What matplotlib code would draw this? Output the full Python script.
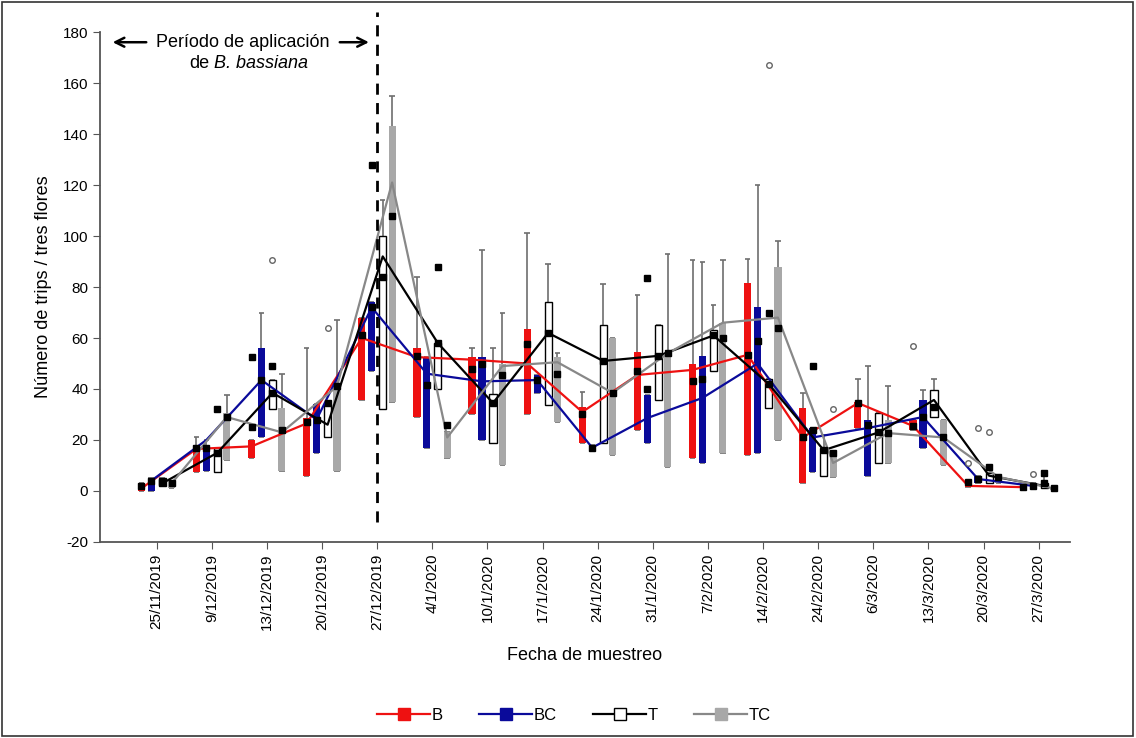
import matplotlib.pyplot as plt
import numpy as np
from matplotlib.patches import Rectangle

plt.rcParams['font.family'] = ['Liberation Sans', 'DejaVu Sans']
plt.rcParams['axes.unicode_minus'] = False

fechas = ['25/11/2019', '9/12/2019', '13/12/2019', '20/12/2019', '27/12/2019',
          '4/1/2020', '10/1/2020', '17/1/2020', '24/1/2020', '31/1/2020',
          '7/2/2020', '14/2/2020', '24/2/2020', '6/3/2020', '13/3/2020',
          '20/3/2020', '27/3/2020']

# B (rojo)
b_med = [1, 16.5, 17.5, 26.5, 60, 52.5, 51.5, 50, 31, 45.5, 47.5, 53.4, 21, 34.5, 25.5, 2, 1.5]
b_q1 = [0, 7.5, 13, 6, 35.5, 29, 30, 30, 19, 24, 13, 14, 3, 24.7, 24, 1.5, 1]
b_q3 = [3, 18, 20, 28.5, 68, 56, 52.5, 63.5, 33, 54.5, 50, 81.5, 32.5, 35, 28, 3.5, 2]
b_hi = [3, 21, 20, 56, 68, 84, 56, 101, 39, 77, 90.6, 91, 38.5, 44, 28, 3.5, 2]
b_mean = [2, 17, 25, 27, 61, 53, 48, 57.6, 30, 47, 43, 53.4, 21, 34.5, 25.5, 3.5, 1.5]

# BC (azul)
bc_med = [4, 20, 43.5, 28, 72, 46, 43, 43.5, 17, 28.6, 36.5, 50, 21, 24.7, 29, 4.7, 2]
bc_q1 = [0, 8, 21, 15, 47, 17, 20, 38.5, 16, 19, 11, 15, 7.5, 6, 17, 3, 1]
bc_q3 = [5, 17, 56, 34, 74, 52.5, 52.5, 45.5, 18, 37.6, 53, 72, 24.7, 28, 35.7, 6, 3]
bc_hi = [5, 20, 70, 34, 74, 52.5, 94.5, 45.5, 18, 37.6, 90, 120, 24.7, 49, 39.6, 6, 3]
bc_mean = [4, 17, 43.5, 28, 72, 41.6, 50, 43.5, 17, 40, 44, 59, 24, 26, 29, 4.7, 2]

# T (blanco)
t_med = [3, 15, 38.5, 26, 92, 58, 34.5, 62, 51, 53, 61, 42, 16, 23, 35.7, 6, 2]
t_q1 = [2, 7.5, 32, 21, 32, 40, 19, 33.7, 19, 35.7, 47, 32.5, 6, 11, 29, 3, 1]
t_q3 = [5, 17, 43.5, 34, 100, 58, 38, 74, 65, 65, 63, 44, 17, 30.5, 39.6, 7, 3]
t_hi = [5, 17, 43.5, 34, 114, 58, 56, 89, 81, 65, 73, 44, 22, 30.5, 44, 7, 6]
t_mean = [3.5, 15, 38.5, 34.5, 84, 58, 34.5, 62, 51, 53, 61, 42, 16, 23, 33, 9.4, 3]

# TC (gris)
tc_med = [3, 29, 23, 41, 121, 21, 49, 50.5, 38.5, 54, 66, 68, 11, 22.7, 21, 5.5, 1]
tc_q1 = [1, 12, 8, 8, 35, 13, 10, 27, 14, 9.4, 15, 20, 5.5, 11, 10, 3, 0.5]
tc_q3 = [4, 30.5, 32.5, 41, 143, 23, 50, 52.5, 60, 54.5, 66, 88, 15, 28, 28, 6, 1.5]
tc_hi = [4, 37.6, 46, 67, 155, 23, 70, 54, 60, 93, 90.6, 98, 15, 41, 28, 6, 1.5]
tc_mean = [3, 29, 24, 41, 108, 26, 45.5, 46, 38.5, 54, 60, 64, 15, 22.7, 21, 5.5, 1]

# valores extremos: (fecha, serie, valor)
ext_cuad = [(1, 2, 32), (2, 0, 52.5), (2, 2, 49), (4, 1, 128), (5, 2, 88),
            (9, 1, 83.5), (11, 2, 70), (12, 1, 49), (16, 2, 7)]
ext_circ = [(2, 2, 90.6), (3, 2, 64), (11, 2, 167), (12, 3, 32), (14, 0, 57),
            (15, 0, 11), (15, 1, 24.7), (15, 2, 23), (16, 1, 6.5)]

series = [
    ('B', b_med, b_q1, b_q3, b_hi, b_mean, '#ee1111', '#ee1111', '#ee1111'),
    ('BC', bc_med, bc_q1, bc_q3, bc_hi, bc_mean, '#0a0a9a', '#0a0a9a', '#0a0a9a'),
    ('T', t_med, t_q1, t_q3, t_hi, t_mean, 'white', 'black', 'black'),
    ('TC', tc_med, tc_q1, tc_q3, tc_hi, tc_mean, '#a8a8a8', '#a8a8a8', '#888888'),
]
offsets = [-0.28, -0.1, 0.1, 0.27]
ancho = 0.13

fig = plt.figure(figsize=(11.36, 7.38), dpi=100)
ax = fig.add_axes([0.088, 0.2656, 0.854, 0.691])

x = np.arange(len(fechas))
for k, (nombre, med, q1, q3, hi, media, fc, ec, lc) in enumerate(series):
    xs = x + offsets[k]
    q1 = np.array(q1); q3 = np.array(q3); hi = np.array(hi)
    ax.vlines(xs, q1, hi, color='#6e6e6e', lw=1.2, zorder=2)
    ax.hlines(hi, xs - 0.05, xs + 0.05, color='#6e6e6e', lw=1.2, zorder=2)
    ax.hlines(q1, xs - 0.05, xs + 0.05, color='#6e6e6e', lw=1.2, zorder=2)
    ax.bar(xs, q3 - q1, bottom=q1, width=ancho, color=fc,
           edgecolor=ec if nombre == 'T' else 'none', lw=1, zorder=3)
    ax.plot(xs, med, color=lc, lw=1.6, zorder=4)
    ax.plot(xs, media, ls='none', marker='s', ms=5, color='black', zorder=5)

for i, s, v in ext_cuad:
    ax.plot(i + offsets[s], v, ls='none', marker='s', ms=5, color='black', zorder=5)
for i, s, v in ext_circ:
    ax.plot(i + offsets[s], v, ls='none', marker='o', ms=4, mfc='white',
            mec='#666666', mew=1, zorder=5)

# línea de fin de aplicación
ax.vlines(4, -12, 188, colors='black', linestyles=(0, (4, 3)), lw=2, clip_on=False, zorder=6)

ax.text(1.56, 176, 'Período de aplicación', ha='center', va='center', fontsize=13)
ax.text(0.95, 167.5, 'de', ha='right', va='center', fontsize=13)
ax.text(1.03, 167.5, 'B. bassiana', ha='left', va='center', fontsize=13, style='italic')
ax.annotate('', xy=(-0.85, 176), xytext=(-0.14, 176),
            arrowprops=dict(arrowstyle='->', lw=1.8, mutation_scale=16, color='black'))
ax.annotate('', xy=(3.9, 176), xytext=(3.27, 176),
            arrowprops=dict(arrowstyle='->', lw=1.8, mutation_scale=16, color='black'))

ax.set_xlim(-1.03, 16.57)
ax.set_ylim(-20, 180)
ax.set_yticks(np.arange(-20, 181, 20))
ax.set_xticks(x)
ax.set_xticklabels(fechas, rotation=90, fontsize=11)
ax.tick_params(axis='y', labelsize=11, length=5, color='#555555')
ax.tick_params(axis='x', length=5, color='#555555')
for lado in ['top', 'right']:
    ax.spines[lado].set_visible(False)
for lado in ['left', 'bottom']:
    ax.spines[lado].set_color('#555555')
    ax.spines[lado].set_linewidth(1.3)

ax.set_ylabel('Número de trips / tres flores', fontsize=13, labelpad=8)
ax.set_xlabel('Fecha de muestreo', fontsize=13, labelpad=12)

manejadores = []
for nombre, med, q1, q3, hi, media, fc, ec, lc in series:
    h, = ax.plot([], [], color=lc, lw=1.6, marker='s', ms=8, mfc=fc, mec=ec, label=nombre)
    manejadores.append(h)
fig.legend(handles=manejadores, loc='center', bbox_to_anchor=(0.505, 0.031), ncol=4,
           frameon=False, fontsize=12, handlelength=3.2, columnspacing=2.2, handletextpad=0.05)

fig.add_artist(Rectangle((0.002, 0.003), 0.995, 0.994, transform=fig.transFigure,
                         fill=False, edgecolor='#333333', lw=1.2))

fig.savefig('out.png', dpi=100)
